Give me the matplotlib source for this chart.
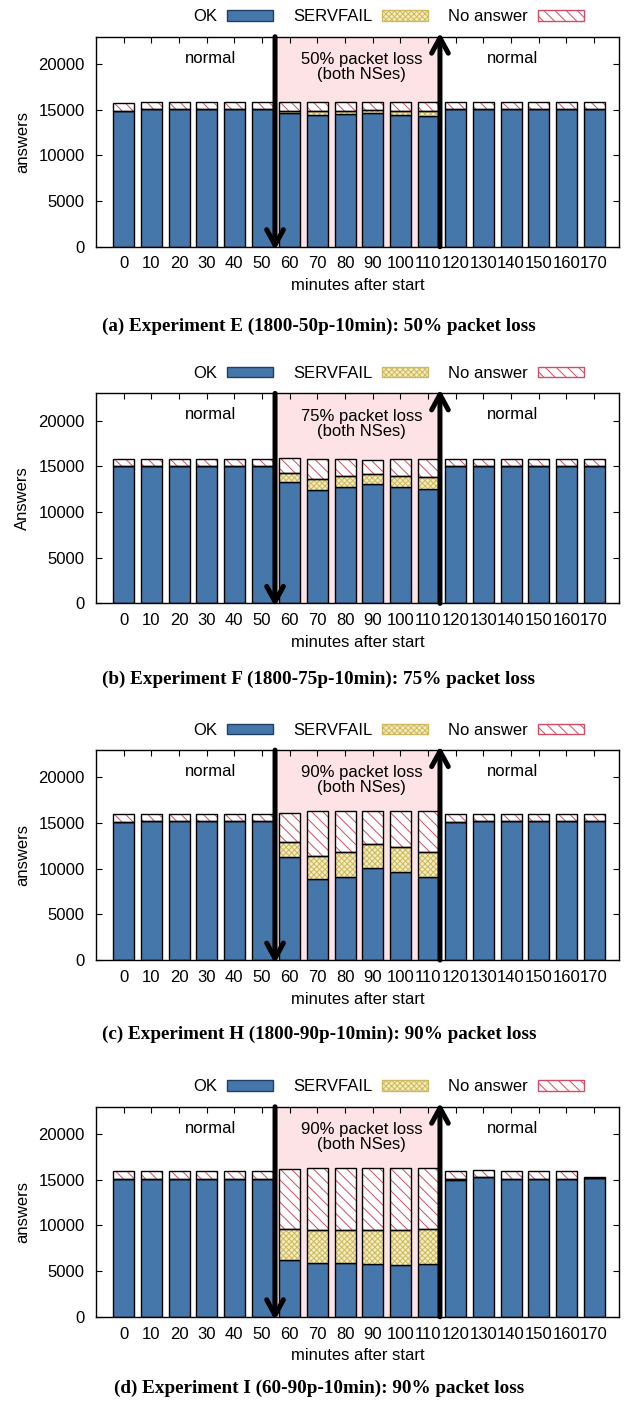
import matplotlib
matplotlib.use("Agg")
import matplotlib.pyplot as plt
from matplotlib.patches import Patch

plt.rcParams['font.family'] = ['Liberation Sans', 'DejaVu Sans']
plt.rcParams['hatch.linewidth'] = 0.7

# ---------------- data ----------------
minutes = ["0", "10", "20", "30", "40", "50", "60", "70", "80", "90",
           "100", "110", "120", "130", "140", "150", "160", "170"]

ok_a = [14890, 15075, 15075, 15075, 15075, 15075, 14630, 14380, 14520, 14630, 14450, 14300,
        15075, 15075, 15075, 15075, 15075, 15075]
sf_a = [0, 0, 0, 0, 0, 0, 260, 440, 370, 300, 440, 520, 0, 0, 0, 0, 0, 0]
na_a = [845, 770, 770, 770, 770, 770, 960, 1030, 960, 920, 960, 1030, 770, 770, 770, 770, 770, 770]

ok_b = [15020, 15020, 15020, 15020, 15020, 15020, 13270, 12390, 12720, 13050, 12720, 12540,
        15020, 15020, 15020, 15020, 15020, 15020]
sf_b = [0, 0, 0, 0, 0, 0, 980, 1240, 1280, 1170, 1280, 1350, 0, 0, 0, 0, 0, 0]
na_b = [780, 780, 780, 780, 780, 780, 1660, 2170, 1800, 1510, 1800, 1950, 780, 780, 780, 780, 780, 780]

ok_c = [15130, 15240, 15240, 15240, 15240, 15240, 11330, 8910, 9130, 10050, 9680, 9060,
        15170, 15240, 15240, 15240, 15240, 15240]
sf_c = [0, 0, 0, 0, 0, 0, 1610, 2530, 2670, 2630, 2670, 2820, 0, 0, 0, 0, 0, 0]
na_c = [915, 805, 805, 805, 805, 805, 3215, 4860, 4500, 3620, 3950, 4495, 875, 805, 805, 805, 805, 805]

ok_d = [15090, 15090, 15090, 15090, 15090, 15090, 6250, 5920, 5920, 5810, 5700, 5730,
        14940, 15270, 15060, 15120, 15090, 15240]
sf_d = [0, 0, 0, 0, 0, 0, 3410, 3630, 3630, 3740, 3850, 3930, 185, 0, 0, 0, 0, 0]
na_d = [915, 915, 915, 915, 915, 915, 6490, 6710, 6750, 6710, 6710, 6680, 880, 810, 910, 880, 915, 70]

ylabels = ["answers", "Answers", "answers", "answers"]
loss_labels = ["50% packet loss\n(both NSes)", "75% packet loss\n(both NSes)",
               "90% packet loss\n(both NSes)", "90% packet loss\n(both NSes)"]
captions = ["(a) Experiment E (1800-50p-10min): 50% packet loss",
            "(b) Experiment F (1800-75p-10min): 75% packet loss",
            "(c) Experiment H (1800-90p-10min): 90% packet loss",
            "(d) Experiment I (60-90p-10min): 90% packet loss"]
panels = [(ok_a, sf_a, na_a), (ok_b, sf_b, na_b), (ok_c, sf_c, na_c), (ok_d, sf_d, na_d)]

# ---------------- style ----------------
C_OK = "#4677aa"
C_SF = "#f4edbb"
C_SF_H = "#cdb860"
C_NA = "white"
C_NA_H = "#d24c66"
C_PINK = "#fde3e5"

W, H = 624, 1404
fig = plt.figure(figsize=(W / 100, H / 100), dpi=100)

def fx(px):
    return px / W

def fy(py):
    return 1 - py / H

ax_left, ax_right = 96, 619
panel_top = [36.7, 393.4, 750.1, 1106.8]
panel_h = 210.0
caption_y = [326, 679, 1034, 1388]
legend_y = [16.8, 373.5, 730.2, 1086.9]

x = list(range(len(minutes)))
bw = 0.76
YMAX = 23000
loss_start, loss_end = 5.47, 11.43

for k, (ok, sf, na) in enumerate(panels):
    top = panel_top[k]
    ax = fig.add_axes([fx(ax_left), fy(top + panel_h), fx(ax_right - ax_left), panel_h / H])
    ax.set_xlim(-1.0, 17.9)
    ax.set_ylim(0, YMAX)
    ax.axvspan(loss_start, loss_end, color=C_PINK, zorder=0, lw=0)

    bottom_sf = ok
    bottom_na = [o + s for o, s in zip(ok, sf)]
    ax.bar(x, ok, bw, color=C_OK, edgecolor="black", lw=1.0, zorder=2)
    ax.bar(x, sf, bw, bottom=bottom_sf, color=C_SF, edgecolor=C_SF_H, hatch="xxxxxx", lw=0, zorder=2)
    ax.bar(x, sf, bw, bottom=bottom_sf, color="none", edgecolor="black", lw=1.0, zorder=3)
    ax.bar(x, na, bw, bottom=bottom_na, color=C_NA, edgecolor=C_NA_H, hatch="\\\\\\", lw=0, zorder=2)
    ax.bar(x, na, bw, bottom=bottom_na, color="none", edgecolor="black", lw=1.0, zorder=3)

    # arrows
    ax.annotate("", xy=(loss_start, -380), xytext=(loss_start, YMAX),
                arrowprops=dict(arrowstyle="->,head_length=0.55,head_width=0.3", lw=3.6,
                                color="black", shrinkA=0, shrinkB=0, mutation_scale=20),
                annotation_clip=False, zorder=5)
    ax.annotate("", xy=(loss_end, YMAX + 440), xytext=(loss_end, 0),
                arrowprops=dict(arrowstyle="->,head_length=0.55,head_width=0.3", lw=3.6,
                                color="black", shrinkA=0, shrinkB=0, mutation_scale=20),
                annotation_clip=False, zorder=5)

    ax.text(3.15, 20650, "normal", ha="center", va="center", fontsize=12)
    ax.text(14.05, 20650, "normal", ha="center", va="center", fontsize=12)
    ax.text(8.6, 19700, loss_labels[k], ha="center", va="center", fontsize=12, linespacing=1.0)

    ax.set_xticks(x)
    ax.set_xticklabels(minutes)
    ax.set_yticks([0, 5000, 10000, 15000, 20000])
    ax.tick_params(axis="both", direction="in", length=4, width=0.8, labelsize=12,
                   top=True, right=True)
    ax.tick_params(axis="x", pad=7)
    ax.tick_params(axis="y", pad=8)
    for s in ax.spines.values():
        s.set_linewidth(1.0)
    ax.set_xlabel("minutes after start", fontsize=12, labelpad=5)
    ax.set_ylabel(ylabels[k], fontsize=12, labelpad=6)

    handles = [Patch(facecolor=C_OK, edgecolor="#1f3f66", lw=1.0),
               Patch(facecolor=C_SF, edgecolor=C_SF_H, hatch="xxxxxx", lw=1.0),
               Patch(facecolor=C_NA, edgecolor=C_NA_H, hatch="\\\\\\", lw=1.0)]
    fig.legend(handles, ["OK", "SERVFAIL", "No answer"], ncol=3, frameon=False,
               markerfirst=False, fontsize=12, handlelength=2.75, handleheight=0.6,
               handletextpad=0.6, columnspacing=1.2, borderpad=0, borderaxespad=0,
               loc="center", bbox_to_anchor=(fx(388.5), fy(legend_y[k])))

    fig.text(fx(319), fy(caption_y[k]), captions[k], ha="center", va="center",
             fontsize=13.8, fontweight="bold", family=["Liberation Serif", "DejaVu Serif"])

fig.savefig("out.png", dpi=100)
